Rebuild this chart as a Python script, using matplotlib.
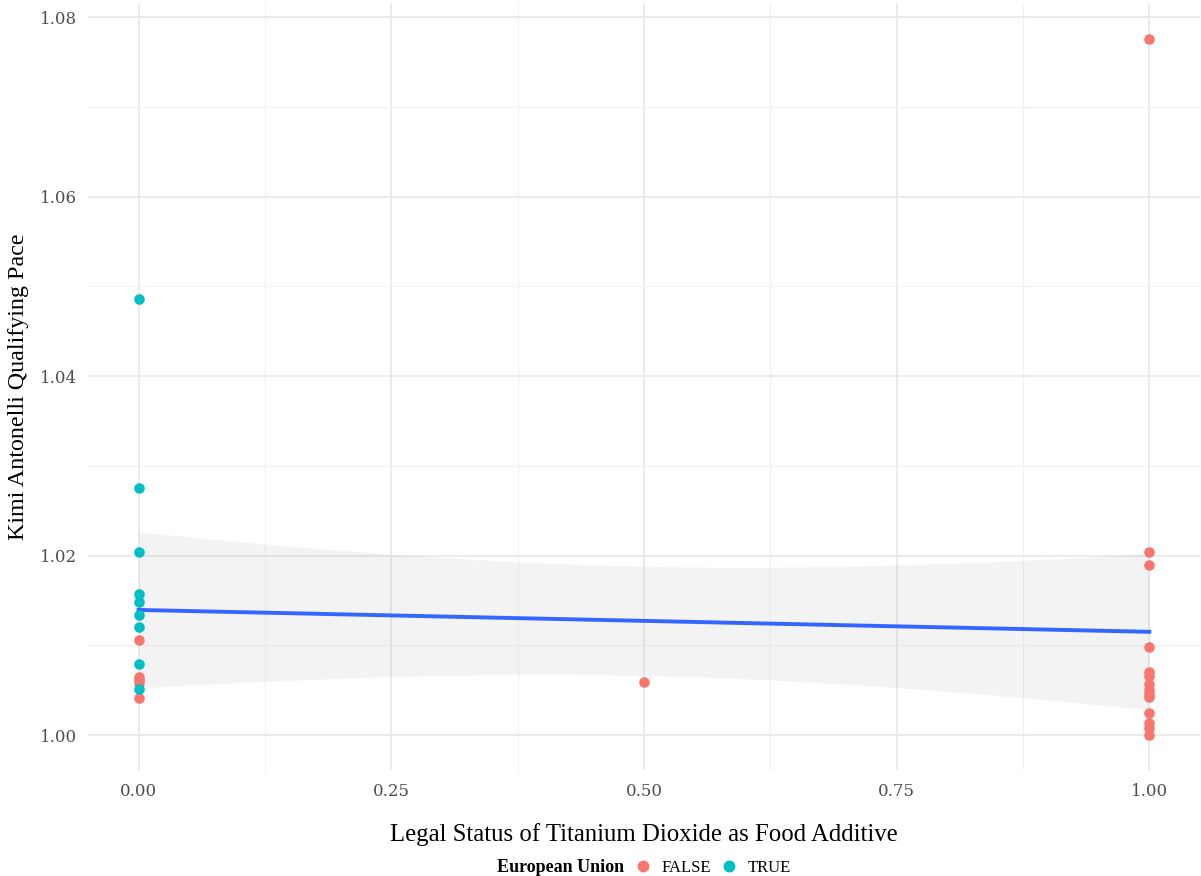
import matplotlib
matplotlib.use("Agg")
import matplotlib.pyplot as plt
import numpy as np
from matplotlib.lines import Line2D

# legal status (x) and qualifying pace (y), split by EU membership
x_false = [0, 0, 0, 0, 0, 0.5, 1, 1, 1, 1, 1, 1, 1, 1, 1, 1, 1, 1, 1, 1]
y_false = [1.0106, 1.0065, 1.0062, 1.0058, 1.0041, 1.0059,
           1.0776, 1.0204, 1.0190, 1.0098, 1.0070, 1.0066, 1.0057,
           1.0050, 1.0046, 1.0043, 1.0025, 1.0014, 1.0008, 1.0000]
x_true = [0, 0, 0, 0, 0, 0, 0, 0, 0]
y_true = [1.0486, 1.0275, 1.0204, 1.0157, 1.0148, 1.0134, 1.0121, 1.0079, 1.0052]

col_false = "#F8766D"
col_true = "#00BFC4"

plt.rcParams['font.family'] = ['Liberation Serif', 'DejaVu Serif']

fig = plt.figure(figsize=(12.01, 8.76), dpi=100)
ax = fig.add_axes([0.0733, 0.121, 0.9257, 0.8755])

# linear fit with 95% band, like geom_smooth(method = "lm")
xs = np.array(x_false + x_true, dtype=float)
ys = np.array(y_false + y_true)
n = len(xs)
b, a = np.polyfit(xs, ys, 1)
resid = ys - (a + b * xs)
s = np.sqrt(np.sum(resid ** 2) / (n - 2))
xg = np.linspace(0, 1, 80)
se = s * np.sqrt(1 / n + (xg - xs.mean()) ** 2 / np.sum((xs - xs.mean()) ** 2))
tval = 2.03  # t(0.975, df=n-2)
fit = a + b * xg
ax.fill_between(xg, fit - tval * se, fit + tval * se, color="#999999", alpha=0.11, lw=0, zorder=2)
ax.plot(xg, fit, color="#3366FF", lw=2.8, zorder=3)

ax.scatter(x_false, y_false, s=58, color=col_false, lw=0, zorder=4)
ax.scatter(x_true, y_true, s=58, color=col_true, lw=0, zorder=4)

ax.set_xlim(-0.05, 1.05)
ax.set_ylim(0.99612, 1.08158)
ax.set_xticks([0, 0.25, 0.5, 0.75, 1.0])
ax.set_xticklabels(["0.00", "0.25", "0.50", "0.75", "1.00"])
ax.set_xticks([0.125, 0.375, 0.625, 0.875], minor=True)
ax.set_yticks([1.00, 1.02, 1.04, 1.06, 1.08])
ax.set_yticklabels(["1.00", "1.02", "1.04", "1.06", "1.08"])
ax.set_yticks([1.01, 1.03, 1.05, 1.07], minor=True)
ax.grid(which="major", color="#EBEBEB", lw=1.4, zorder=0)
ax.grid(which="minor", color="#F1F1F1", lw=0.9, zorder=0)
ax.set_axisbelow(True)
for sp in ax.spines.values():
    sp.set_visible(False)
ax.tick_params(which="both", length=0, labelsize=12, labelcolor="#4D4D4D")
ax.tick_params(axis="x", pad=9)
ax.tick_params(axis="y", pad=8)
for lab in ax.get_xticklabels() + ax.get_yticklabels():
    lab.set_family("DejaVu Serif")

ax.set_xlabel("Legal Status of Titanium Dioxide as Food Additive", fontsize=17.8, labelpad=17)
ax.set_ylabel("Kimi Antonelli Qualifying Pace", fontsize=17.3, labelpad=8)

ly = 8 / 876
fig.text(0.414, ly, "European Union", fontsize=13, fontweight="bold", va="center")
handles = [Line2D([], [], marker="o", ls="", color=col_false, markersize=7.5),
           Line2D([], [], marker="o", ls="", color=col_true, markersize=7.5)]
fig.legend(handles, ["FALSE", "TRUE"], ncol=2, loc="center left",
           bbox_to_anchor=(0.527, ly), frameon=False, fontsize=12,
           handletextpad=0.5, columnspacing=0.5, handlelength=1.2,
           borderpad=0, borderaxespad=0)

fig.savefig("out.png", dpi=100)
